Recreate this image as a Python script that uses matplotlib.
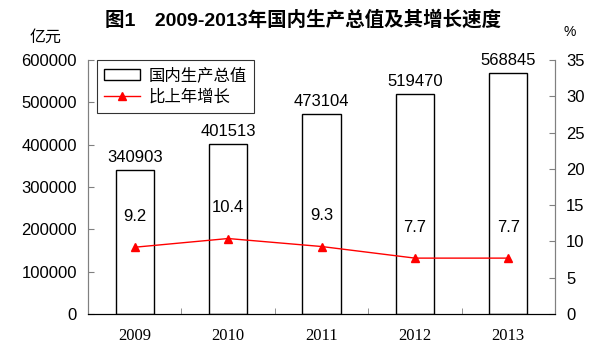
import matplotlib
matplotlib.use("Agg")
import matplotlib.pyplot as plt
import numpy as np

plt.rcParams['font.family'] = ['Liberation Sans', 'Noto Sans CJK SC']

years = ["2009", "2010", "2011", "2012", "2013"]
gdp = [340903, 401513, 473104, 519470, 568845]
growth = [9.2, 10.4, 9.3, 7.7, 7.7]
left_ticks = [0, 100000, 200000, 300000, 400000, 500000, 600000]
right_ticks = [0, 5, 10, 15, 20, 25, 30, 35]

fig = plt.figure(figsize=(6, 3.54), dpi=100)
ax = fig.add_axes([88 / 600, 40 / 354, 467 / 600, 254 / 354])
ax2 = ax.twinx()

x = np.arange(len(years))
bars = ax.bar(x, gdp, width=0.41, facecolor="white", edgecolor="black", linewidth=1.0,
              label="国内生产总值", zorder=2)
for xi, v in zip(x, gdp):
    ax.text(xi, v + 12000, str(v), ha="center", va="bottom", fontsize=12)

line, = ax2.plot(x, growth, color="red", linewidth=1.0, marker="^", markersize=6,
                 label="比上年增长", zorder=3)
for xi, v in zip(x, growth):
    ax2.text(xi, v + 3.2, f"{v}", ha="center", va="bottom", fontsize=12)

ax.set_xlim(-0.5, len(years) - 0.5)
ax.set_ylim(0, 600000)
ax2.set_ylim(0, 35)
ax.set_yticks(left_ticks)
ax2.set_yticks(right_ticks)
ax.set_xticks(x)
ax.set_xticklabels(years, fontfamily="Liberation Serif", fontsize=12)
ax.set_xticks(np.arange(len(years) + 1) - 0.5, minor=True)
ax.tick_params(axis="x", which="major", length=0, pad=10)
ax.tick_params(axis="x", which="minor", direction="in", length=4, color="gray")
ax.tick_params(axis="y", direction="in", length=4, color="gray", labelsize=12, pad=8)
ax2.tick_params(axis="y", direction="in", length=4, color="gray", labelsize=12, pad=8)

for a in (ax, ax2):
    a.spines["top"].set_visible(False)
    a.spines["left"].set_color("gray")
    a.spines["right"].set_color("gray")
    a.spines["bottom"].set_color("black")

leg = ax.legend([bars, line], ["国内生产总值", "比上年增长"], loc="upper left",
                bbox_to_anchor=(0.019, 1.0), fontsize=11.8, frameon=True, fancybox=False,
                edgecolor="black", handlelength=2.2, borderpad=0.45, labelspacing=0.25,
                handletextpad=0.5, borderaxespad=0)
leg.get_frame().set_linewidth(0.8)
for t in leg.get_texts():
    t.set_fontfamily(['Noto Sans CJK SC'])

fig.text(0.505, 0.945, "图1　2009-2013年国内生产总值及其增长速度", ha="center", va="center",
         fontsize=14, fontweight="bold")
fig.text(30 / 600, 0.895, "亿元", ha="left", va="center", fontsize=11.5)
fig.text(563 / 600, 0.91, "%", ha="left", va="center", fontsize=10)

fig.savefig("out.png", dpi=100)
